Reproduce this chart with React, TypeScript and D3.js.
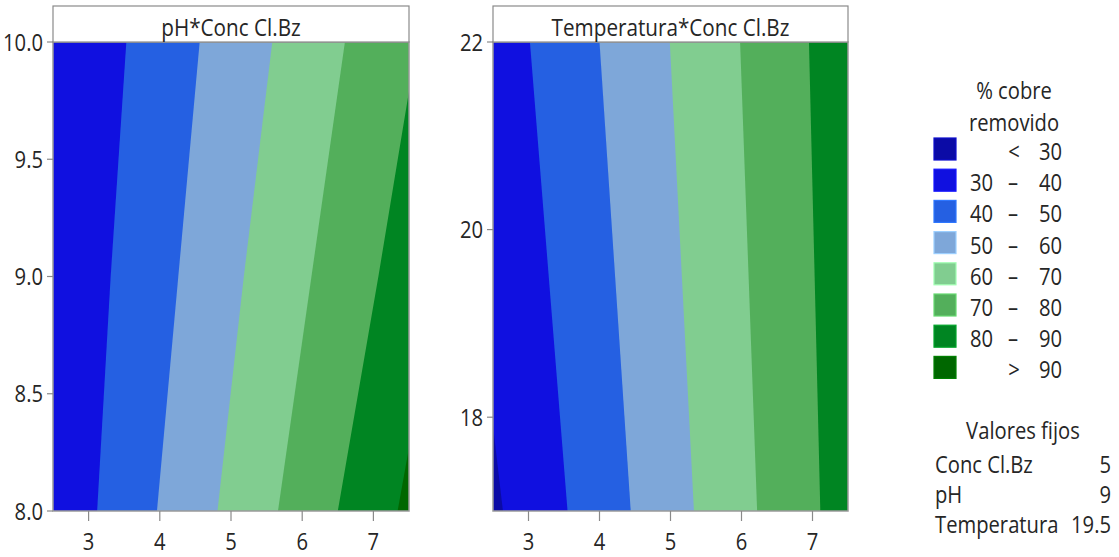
import * as d3 from 'd3';

// % cobre removido, contour plot (Minitab style)
const bandLabels = ['< 30', '30 – 40', '40 – 50', '50 – 60', '60 – 70', '70 – 80', '80 – 90', '> 90'];
const bandColors = ['#0b0ba6', '#1010e0', '#2560e2', '#7ea7d9', '#81cd90', '#53af5b', '#008522', '#006700'];
const levels = [30, 40, 50, 60, 70, 80, 90];

const concTicks = [3, 4, 5, 6, 7];
const phTicks = [8.0, 8.5, 9.0, 9.5, 10.0];
const tempTicks = [18, 20, 22];

// contour lines, [Conc Cl.Bz, y-variable], top to bottom
const phContours = [
  { level: 40, pts: [[3.53, 10], [3.31, 9], [3.12, 8]] },
  { level: 50, pts: [[4.56, 10], [4.26, 9], [3.96, 8]] },
  { level: 60, pts: [[5.58, 10], [5.18, 9], [4.81, 8]] },
  { level: 70, pts: [[6.6, 10], [6.13, 9], [5.66, 8]] },
  { level: 80, pts: [[7.5, 9.79], [7.07, 9], [6.5, 8]] },
  { level: 90, pts: [[7.5, 8.27], [7.34, 8]] },
];

const tempContours = [
  { level: 30, pts: [[2.5, 17.91], [2.64, 17]] },
  { level: 40, pts: [[3.02, 22], [3.55, 17]] },
  { level: 50, pts: [[4.0, 22], [4.44, 17]] },
  { level: 60, pts: [[4.99, 22], [5.33, 17]] },
  { level: 70, pts: [[5.98, 22], [6.22, 17]] },
  { level: 80, pts: [[6.95, 22], [7.11, 17]] },
];

const fixedNames = ['Conc Cl.Bz', 'pH', 'Temperatura'];
const fixedValues = ['5', '9', '19.5'];

const FONT = '"Open Sans", "Noto Sans", sans-serif';
const TEXT = '#262626';
const SX = 0.86;
const FS = 23.5;

function Txt({ x, y, anchor = 'start', size = FS, sx = SX, children }) {
  return (
    <text
      transform={`translate(${x},${y}) scale(${sx},1)`}
      textAnchor={anchor}
      fontFamily={FONT}
      fontSize={size}
      fontWeight={500}
      fill={TEXT}
    >
      {children}
    </text>
  );
}

// region on the high side of a contour, closed round the plot border
function highSide(pts, x0, x1, y0, y1) {
  const W = x1 - x0;
  const H = y1 - y0;
  const P = 2 * W + 2 * H;
  const eps = 0.6;
  const s = ([x, y]) => {
    if (Math.abs(y - y1) < eps) return x - x0;
    if (Math.abs(x - x1) < eps) return W + (y1 - y);
    if (Math.abs(y - y0) < eps) return W + H + (x1 - x);
    return 2 * W + H + (y - y0);
  };
  const corners = [
    [W, [x1, y1]],
    [W + H, [x1, y0]],
    [2 * W + H, [x0, y0]],
    [P, [x0, y1]],
  ];
  const out = pts.slice();
  const from = s(pts[pts.length - 1]);
  let to = s(pts[0]);
  if (to <= from) to += P;
  [...corners, ...corners.map(([c, p]) => [c + P, p])].forEach(([c, p]) => {
    if (c > from && c < to) out.push(p);
  });
  return out;
}

function Panel({ x0, x1, y0, y1, title, yDomain, yTicks, yFormat, contours }) {
  const x = d3.scaleLinear().domain([2.5, 7.5]).range([x0, x1]);
  const y = d3.scaleLinear().domain(yDomain).range([y1, y0]);
  const line = d3.line();
  const base = levels.indexOf(contours[0].level);
  const clipId = `clip-${x0}`;
  return (
    <g>
      <defs>
        <clipPath id={clipId}>
          <rect x={x0} y={y0} width={x1 - x0} height={y1 - y0} />
        </clipPath>
      </defs>
      <g clipPath={`url(#${clipId})`}>
        <rect x={x0} y={y0} width={x1 - x0} height={y1 - y0} fill={bandColors[base]} />
        {contours.map((c) => {
          const px = c.pts.map(([a, b]) => [x(a), y(b)]);
          return (
            <path
              key={c.level}
              d={line(highSide(px, x0, x1, y0, y1)) + 'Z'}
              fill={bandColors[levels.indexOf(c.level) + 1]}
            />
          );
        })}
      </g>
      <rect x={x0} y={y0} width={x1 - x0} height={y1 - y0} fill="none" stroke="#9a9a9a" strokeWidth={1.5} />
      <rect x={x0} y={6} width={x1 - x0} height={y0 - 6} fill="#fff" stroke="#8a8a8a" strokeWidth={1.2} />
      <Txt x={(x0 + x1) / 2} y={36} anchor="middle" sx={0.88}>{title}</Txt>
      {yTicks.map((t) => (
        <g key={t}>
          <line x1={x0 - 6} x2={x0} y1={y(t)} y2={y(t)} stroke="#8a8a8a" strokeWidth={1.2} />
          <Txt x={x0 - 10} y={y(t) + 8.5} anchor="end">{yFormat(t)}</Txt>
        </g>
      ))}
      {concTicks.map((t) => (
        <g key={t}>
          <line x1={x(t)} x2={x(t)} y1={y1} y2={y1 + 10} stroke="#8a8a8a" strokeWidth={1.2} />
          <Txt x={x(t)} y={550} anchor="middle">{String(t)}</Txt>
        </g>
      ))}
    </g>
  );
}

export default function App() {
  const rowY = (i) => 138 + i * 31.2;
  return (
    <svg width={1119} height={557} style={{ position: 'absolute', left: 0, top: 0, background: '#fff' }}>
      <Panel
        x0={53} x1={409} y0={42} y1={511}
        title="pH*Conc Cl.Bz"
        yDomain={[8, 10]}
        yTicks={phTicks}
        yFormat={d3.format('.1f')}
        contours={phContours}
      />
      <Panel
        x0={493} x1={848} y0={42} y1={511}
        title="Temperatura*Conc Cl.Bz"
        yDomain={[17, 22]}
        yTicks={tempTicks}
        yFormat={d3.format('d')}
        contours={tempContours}
      />
      <Txt x={1014} y={99} anchor="middle">% cobre</Txt>
      <Txt x={1014} y={131} anchor="middle">removido</Txt>
      {bandLabels.map((lab, i) => {
        const parts = lab.split(' ');
        const ty = rowY(i) + 22;
        return (
          <g key={lab}>
            <rect x={934} y={rowY(i)} width={22} height={22} fill={bandColors[i]}
              stroke={d3.color(bandColors[i]).brighter(0.6).formatHex()} strokeWidth={1.2} />
            {parts.length === 2 ? (
              <>
                <Txt x={1014} y={ty} anchor="middle">{parts[0]}</Txt>
                <Txt x={1062} y={ty} anchor="end">{parts[1]}</Txt>
              </>
            ) : (
              <>
                <Txt x={993} y={ty} anchor="end">{parts[0]}</Txt>
                <Txt x={1013} y={ty} anchor="middle">{parts[1]}</Txt>
                <Txt x={1062} y={ty} anchor="end">{parts[2]}</Txt>
              </>
            )}
          </g>
        );
      })}
      <Txt x={1023} y={439} anchor="middle">Valores fijos</Txt>
      {fixedNames.map((n, i) => (
        <g key={n}>
          <Txt x={935} y={473 + i * 30}>{n}</Txt>
          <Txt x={1111} y={473 + i * 30} anchor="end">{fixedValues[i]}</Txt>
        </g>
      ))}
    </svg>
  );
}
